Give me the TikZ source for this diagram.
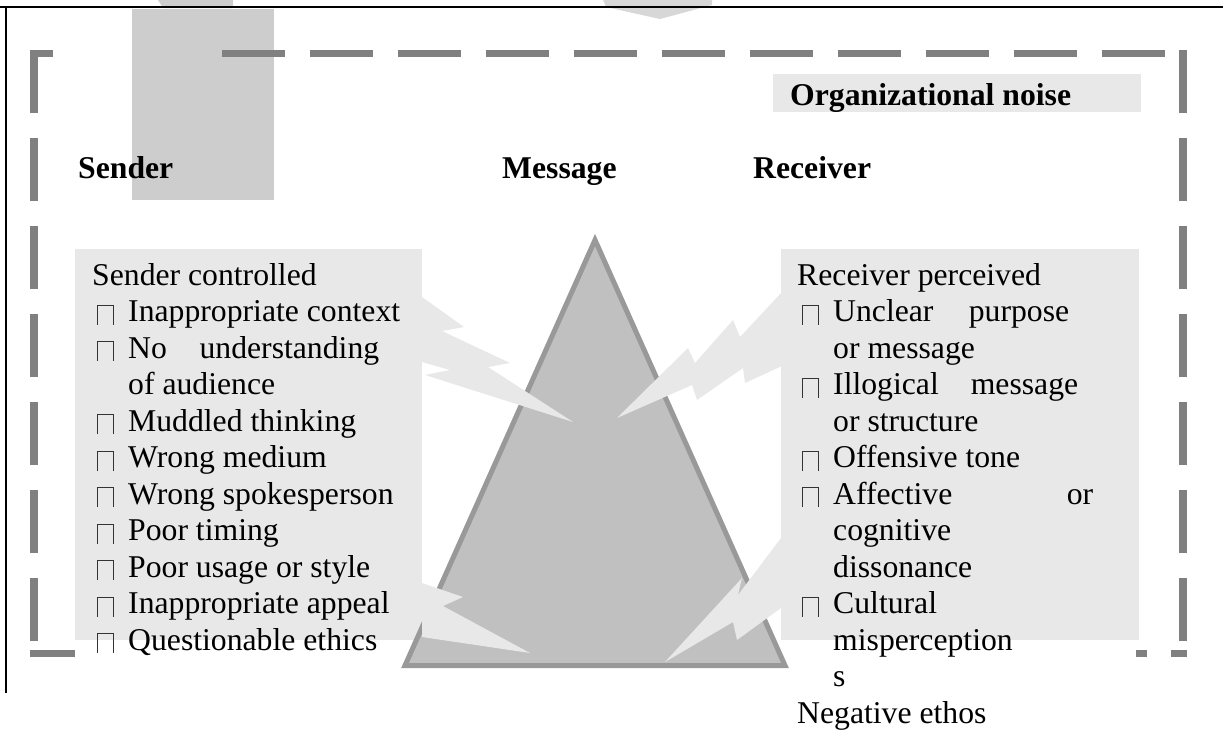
\documentclass[tikz,border=0pt]{standalone}
\usepackage{fontspec}
\setmainfont{Liberation Serif}

\definecolor{noisegray}{HTML}{808080}
\definecolor{boxgray}{HTML}{E8E8E8}
\definecolor{rectgray}{HTML}{CDCDCD}
\definecolor{trifill}{HTML}{C0C0C0}
\definecolor{triedge}{HTML}{999999}

\newcommand\sqbul{\raisebox{-3pt}{\color{black!80}\vrule width 1pt height 20pt\vbox to 20pt{\hrule width 15pt height 1pt\vfill}\vrule width 1pt height 20pt}}
\newcommand\itm[1]{\hspace*{5pt}\makebox[31pt][l]{\sqbul}#1}
\newcommand\cnt[1]{\hspace*{36pt}#1}

\begin{document}
\begin{tikzpicture}[x=1pt,y=-1pt,
    every node/.style={inner sep=0pt,font=\fontsize{31.7}{36.5}\selectfont},
    head/.style={anchor=base west,font=\fontsize{31.7}{36.5}\selectfont\bfseries},
    list/.style={anchor=base west,align=left},
    noiseline/.style={draw=noisegray,line width=7.5pt},
    bolt/.style={fill=boxgray}]
\useasboundingbox (0,0) rectangle (1223,742);

% cut-off shapes above the frame
\fill[rectgray] (158,0) -- (233,0) -- (233,8) -- (163,8) -- cycle;
\fill[rectgray!80] (603,0) -- (712,0) -- (712,5) -- (660,19) -- (606,7) -- cycle;
\fill[rectgray] (132,9) rectangle (274,200);

% outer frame
\draw[line width=2pt] (0,7) -- (1223,7);
\draw[line width=2pt] (6,7) -- (6,693);

% organizational noise frame
\draw[noiseline] (53,53.5) -- (34,53.5) -- (34,113);
\draw[noiseline,dash pattern=on 63pt off 25pt] (34,138) -- (34,642);
\draw[noiseline,dash pattern=on 63pt off 25pt] (222,53.5) -- (1165,53.5);
\draw[noiseline,dash pattern=on 63pt off 25pt] (1183,50) -- (1183,642);
\draw[noiseline] (30,653.5) -- (75,653.5);
\draw[noiseline] (1136,653.5) -- (1147,653.5);
\draw[noiseline] (1171,653.5) -- (1187,653.5);

% boxes
\fill[boxgray] (773,74) rectangle (1141,112);
\fill[boxgray] (75,249) rectangle (422,640);
\fill[boxgray] (781,249) rectangle (1139,640);

% message triangle
\filldraw[fill=trifill,draw=triedge,line width=5pt] (595,240) -- (785,665.5) -- (405,665.5) -- cycle;

% noise bolts
\fill[bolt] (422,297) -- (464,327) -- (442,331) -- (510,363) -- (488,367) -- (573,422) -- (425,375) -- (450,370) -- (422,362) -- cycle;
\fill[bolt] (422,583) -- (463,597) -- (443,606) -- (530,653) -- (422,637) -- cycle;
\fill[bolt] (782,292) -- (740,337) -- (733,320) -- (695,363) -- (688,348) -- (617,418) -- (692,385) -- (697,400) -- (743,368) -- (745,383) -- (782,366) -- cycle;
\fill[bolt] (781,538) -- (738,595) -- (742,578) -- (665,662) -- (733,622) -- (737,640) -- (781,608) -- cycle;

% headings
\node (orgnoise) at (790,105) [head] {Organizational noise};
\node (sender) at (78,178) [head] {Sender};
\node (message) at (502,178) [head] {Message};
\node (receiver) at (753,178) [head] {Receiver};

% lists (anchored at the baseline of their last line)
\node (senderlist) at (92,650) [list] {Sender controlled\\
  \itm{Inappropriate context}\\
  \itm{\hbox to 251pt{No\hfill understanding}}\\
  \cnt{of audience}\\
  \itm{Muddled thinking}\\
  \itm{Wrong medium}\\
  \itm{Wrong spokesperson}\\
  \itm{Poor timing}\\
  \itm{Poor usage or style}\\
  \itm{Inappropriate appeal}\\
  \itm{Questionable ethics}};

\node (receiverlist) at (797,723) [list] {Receiver perceived\\
  \itm{\hbox to 236pt{Unclear\hfill purpose}}\\
  \cnt{or message}\\
  \itm{\hbox to 245pt{Illogical\hfill message}}\\
  \cnt{or structure}\\
  \itm{Offensive tone}\\
  \itm{\hbox to 260pt{Affective\hfill or}}\\
  \cnt{cognitive}\\
  \cnt{dissonance}\\
  \itm{Cultural}\\
  \cnt{misperception}\\
  \cnt{s}\\
  Negative ethos};
\end{tikzpicture}
\end{document}
